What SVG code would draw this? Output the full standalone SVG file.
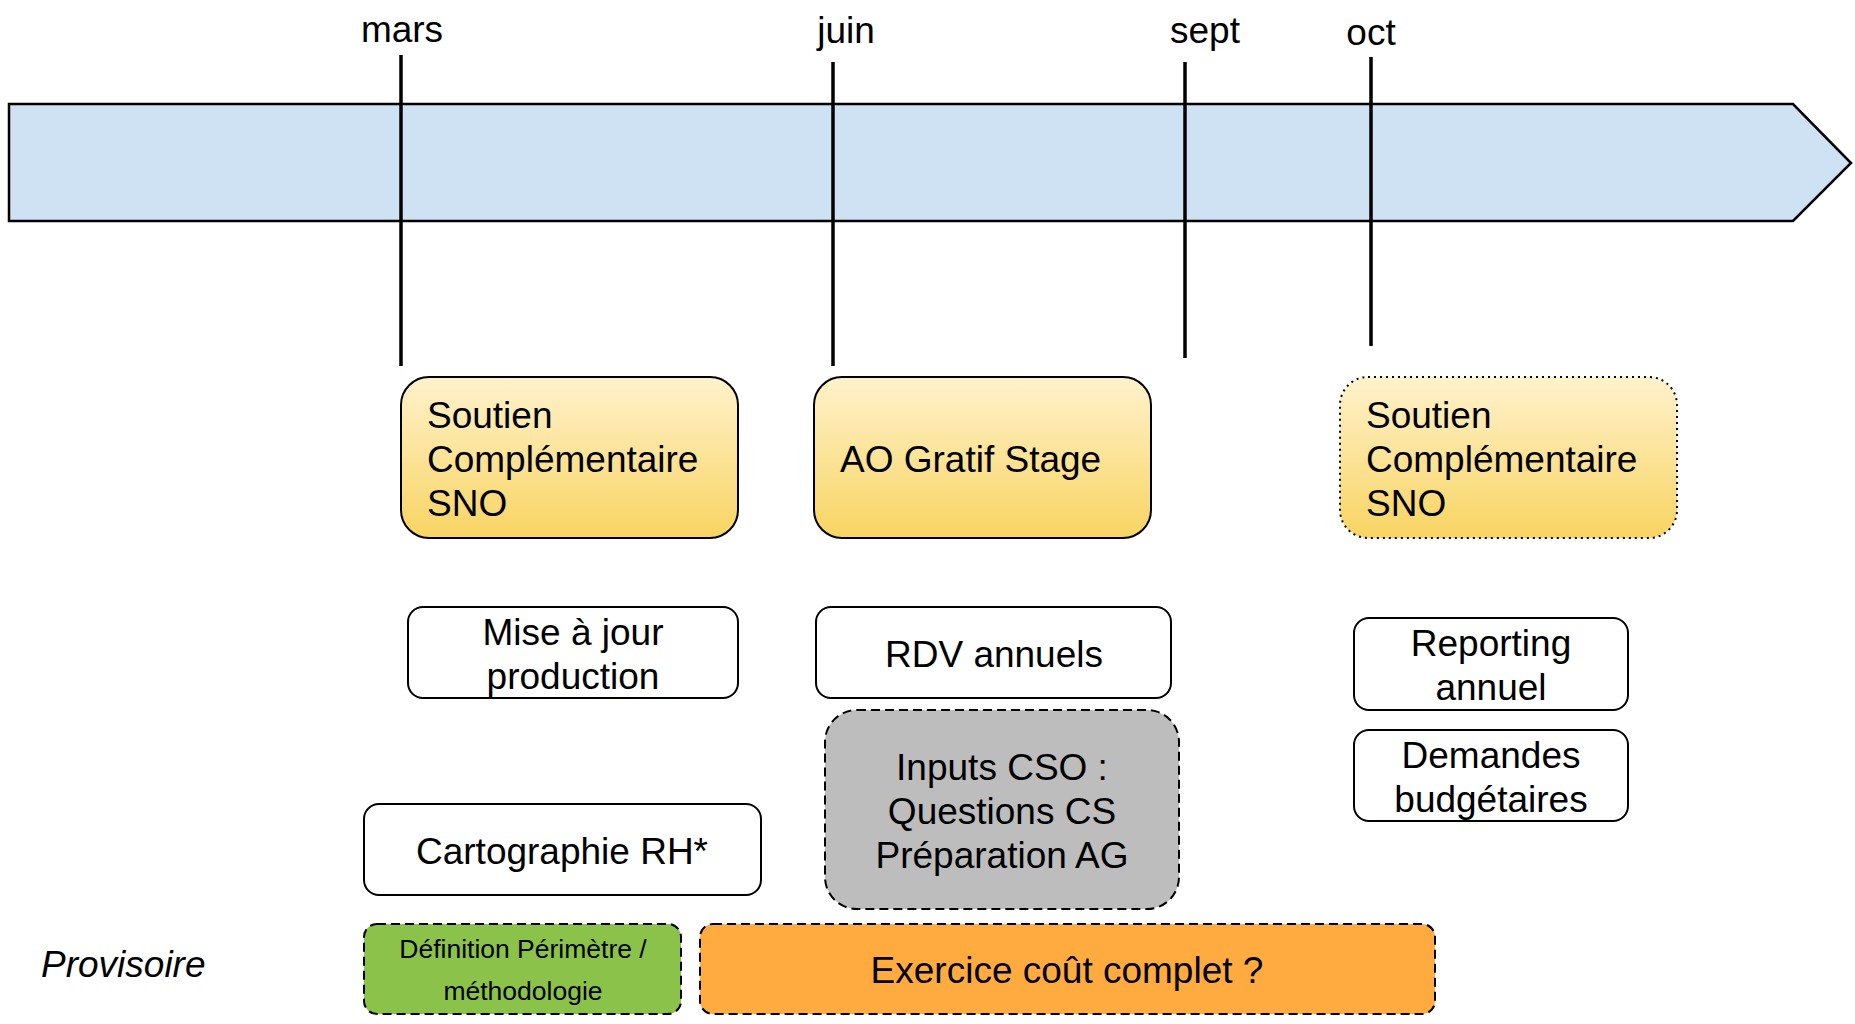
<svg xmlns="http://www.w3.org/2000/svg" width="1855" height="1024" viewBox="0 0 1855 1024">
<defs>
<linearGradient id="yel" x1="0" y1="0" x2="0" y2="1">
<stop offset="0" stop-color="#fff2cc"/>
<stop offset="1" stop-color="#f8d462"/>
</linearGradient>
<style>
text{font-family:"Liberation Sans",Arial,sans-serif;font-size:37px;fill:#000}
text.s{font-size:26.5px}
.c{text-anchor:middle}
.tick{stroke:#000;stroke-width:3.5}
.box{stroke:#000;stroke-width:2}
.yel{fill:url(#yel)}
.wht{fill:#fff}
.dash{stroke-dasharray:9 5}
.dot{stroke-dasharray:2 4}
</style>
</defs>
<rect width="1855" height="1024" fill="#fff"/>
<g id="timeline">
<polygon points="9,104 1793,104 1851,163 1793,221 9,221" fill="#cfe2f3" stroke="#000" stroke-width="2.5"/>
</g>
<g id="connectors">
<line class="tick" x1="401" y1="55" x2="401" y2="366"/>
<line class="tick" x1="833" y1="62" x2="833" y2="366"/>
<line class="tick" x1="1185" y1="62" x2="1185" y2="358"/>
<line class="tick" x1="1371" y1="57" x2="1371" y2="346"/>
</g>
<g id="labels">
<text class="c" x="402" y="42">mars</text>
<text class="c" x="846" y="43">juin</text>
<text class="c" x="1205" y="43">sept</text>
<text class="c" x="1371" y="45">oct</text>
<text x="41" y="977" font-style="italic">Provisoire</text>
</g>
<g id="soutien1">
<rect class="box yel" x="401" y="377" width="337" height="161" rx="28"/>
<text x="427" y="428">Soutien</text>
<text x="427" y="472">Complémentaire</text>
<text x="427" y="516">SNO</text>
</g>
<g id="aogratif">
<rect class="box yel" x="814" y="377" width="337" height="161" rx="28"/>
<text x="840" y="472">AO Gratif Stage</text>
</g>
<g id="soutien2">
<rect class="box yel dot" x="1340" y="377" width="337" height="161" rx="28"/>
<text x="1366" y="428">Soutien</text>
<text x="1366" y="472">Complémentaire</text>
<text x="1366" y="516">SNO</text>
</g>
<g id="misejour">
<rect class="box wht" x="408" y="607" width="330" height="91" rx="15"/>
<text class="c" x="573" y="645">Mise à jour</text>
<text class="c" x="573" y="689">production</text>
</g>
<g id="rdv">
<rect class="box wht" x="816" y="607" width="355" height="91" rx="15"/>
<text class="c" x="994" y="667">RDV annuels</text>
</g>
<g id="reporting">
<rect class="box wht" x="1354" y="618" width="274" height="92" rx="15"/>
<text class="c" x="1491" y="656">Reporting</text>
<text class="c" x="1491" y="700">annuel</text>
</g>
<g id="demandes">
<rect class="box wht" x="1354" y="730" width="274" height="91" rx="15"/>
<text class="c" x="1491" y="768">Demandes</text>
<text class="c" x="1491" y="812">budgétaires</text>
</g>
<g id="inputs">
<rect class="box dash" x="825" y="710" width="354" height="199" rx="32" fill="#bdbdbd"/>
<text class="c" x="1002" y="780">Inputs CSO :</text>
<text class="c" x="1002" y="824">Questions CS</text>
<text class="c" x="1002" y="868">Préparation AG</text>
</g>
<g id="cartographie">
<rect class="box wht" x="364" y="804" width="397" height="91" rx="15"/>
<text class="c" x="562" y="864">Cartographie RH*</text>
</g>
<g id="definition">
<rect class="box dash" x="364" y="924" width="317" height="90" rx="13" fill="#8bc34a"/>
<text class="c s" x="523" y="958">Définition Périmètre /</text>
<text class="c s" x="523" y="1000">méthodologie</text>
</g>
<g id="exercice">
<rect class="box dash" x="700" y="924" width="735" height="90" rx="13" fill="#ffab40"/>
<text class="c" x="1067" y="983">Exercice coût complet ?</text>
</g>
</svg>
